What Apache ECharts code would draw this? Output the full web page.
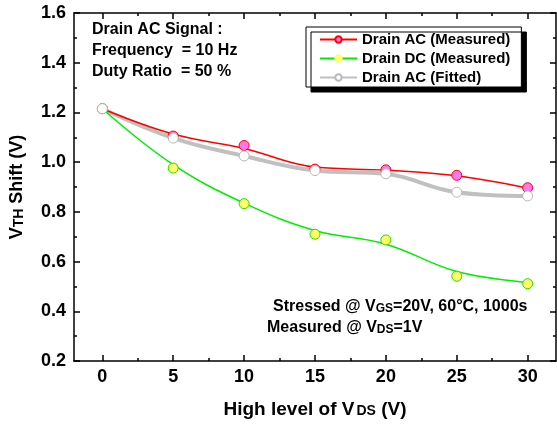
<!DOCTYPE html>
<html>
<head>
<meta charset="utf-8">
<script src="https://cdn.jsdelivr.net/npm/echarts@6/dist/echarts.min.js"></script>
<style>
  html, body { margin: 0; padding: 0; background: #fff; }
  #chart { width: 557px; height: 430px; }
</style>
</head>
<body>
<div id="chart"></div>
<script>
  var vdsHigh = [0, 5, 10, 15, 20, 25, 30];
  // measured points
  var acMeasured = [1.215, 1.105, 1.067, 0.972, 0.969, 0.947, 0.897];
  var dcMeasured = [1.215, 0.976, 0.833, 0.710, 0.687, 0.541, 0.511];
  var acFitted = [1.215, 1.097, 1.025, 0.966, 0.953, 0.879, 0.864];
  // curves as drawn through the points
  var acCurve = [1.215, 1.113, 1.055, 0.980, 0.968, 0.945, 0.895];
  var dcCurve = [1.215, 0.990, 0.835, 0.725, 0.670, 0.560, 0.516];
  var xTicks = [0, 5, 10, 15, 20, 25, 30];
  var xMinorTicks = [2.5, 7.5, 12.5, 17.5, 22.5, 27.5];

  var font = 'Liberation Sans, Arial, Helvetica, sans-serif';

  function pairs(ys) {
    return vdsHigh.map(function (x, i) { return [x, ys[i]]; });
  }

  function xFrame(pos, ticks, len, showLine, showLabel) {
    return {
      type: 'value', position: pos, min: -2, max: 32,
      axisLine: { show: showLine, onZero: false, lineStyle: { color: '#000', width: 1.5 } },
      axisTick: { show: true, inside: true, length: len, customValues: ticks, lineStyle: { color: '#000', width: 1.5 } },
      axisLabel: { show: showLabel, customValues: ticks, color: '#000', fontFamily: font, fontWeight: 'bold', fontSize: 18, margin: 7 },
      splitLine: { show: false }
    };
  }

  function yFrame(pos, showLabel) {
    return {
      type: 'value', position: pos, min: 0.2, max: 1.6, interval: 0.2,
      axisLine: { show: true, onZero: false, lineStyle: { color: '#000', width: 1.5 } },
      axisTick: { show: true, inside: true, length: 6, lineStyle: { color: '#000', width: 1.5 } },
      minorTick: { show: true, splitNumber: 2, length: 3, lineStyle: { color: '#000', width: 1.5 } },
      axisLabel: {
        show: showLabel, color: '#000', fontFamily: font, fontWeight: 'bold', fontSize: 18, margin: 8,
        formatter: function (v) { return v.toFixed(1); }
      },
      splitLine: { show: false }
    };
  }

  var xMain = xFrame('bottom', xTicks, 6, true, true);
  xMain.name = '{a|High level of V}{b|DS}{a| (V)}';
  xMain.nameLocation = 'middle';
  xMain.nameGap = 39;
  xMain.nameTextStyle = {
    rich: {
      a: { fontFamily: font, fontWeight: 'bold', fontSize: 19, color: '#000' },
      b: { fontFamily: font, fontWeight: 'bold', fontSize: 14, color: '#000', padding: [4, 0, 0, 2] }
    }
  };

  var yMain = yFrame('left', true);
  yMain.name = '{a|V}{b|TH}{a| Shift (V)}';
  yMain.nameLocation = 'middle';
  yMain.nameGap = 48;
  yMain.nameRotate = 90;
  yMain.nameTextStyle = {
    rich: {
      a: { fontFamily: font, fontWeight: 'bold', fontSize: 18, color: '#000' },
      b: { fontFamily: font, fontWeight: 'bold', fontSize: 14, color: '#000', padding: [4, 0, 0, 0] }
    }
  };

  var textRich = {
    a: { fontFamily: font, fontWeight: 'bold', fontSize: 16, fill: '#000' },
    s: { fontFamily: font, fontWeight: 'bold', fontSize: 12, fill: '#000', padding: [3, 0, 0, 0] }
  };

  var chart = echarts.init(document.getElementById('chart'));
  chart.setOption({
    animation: false,
    backgroundColor: '#fff',
    grid: { left: 74, right: 1, top: 13, bottom: 69 },
    legend: {
      orient: 'vertical',
      left: 306, top: 27,
      padding: [5, 11, 2, 13],
      itemGap: 4,
      itemWidth: 37, itemHeight: 8,
      backgroundColor: '#fff',
      borderColor: '#000', borderWidth: 1,
      shadowColor: '#000', shadowBlur: 0, shadowOffsetX: 5, shadowOffsetY: 5,
      textStyle: { fontFamily: font, fontWeight: 'bold', fontSize: 15, lineHeight: 15, color: '#000' },
      data: ['Drain AC (Measured)', 'Drain DC (Measured)', 'Drain AC (Fitted)']
    },
    xAxis: [
      xMain,
      xFrame('bottom', xMinorTicks, 3, false, false),
      xFrame('top', xTicks, 6, true, false),
      xFrame('top', xMinorTicks, 3, false, false)
    ],
    yAxis: [yMain, yFrame('right', false)],
    graphic: [
      { type: 'text', left: 92, top: 22, style: { text: 'Drain AC Signal :', font: 'bold 16px ' + font, fill: '#000' } },
      { type: 'text', left: 92, top: 43, style: { text: 'Frequency  = 10 Hz', font: 'bold 16px ' + font, fill: '#000' } },
      { type: 'text', left: 92, top: 64, style: { text: 'Duty Ratio  = 50 %', font: 'bold 16px ' + font, fill: '#000' } },
      { type: 'text', left: 273, top: 299, style: { text: '{a|Stressed @ V}{s|GS}{a|=20V, 60°C, 1000s}', rich: textRich } },
      { type: 'text', left: 267, top: 320, style: { text: '{a|Measured @ V}{s|DS}{a|=1V}', rich: textRich } }
    ],
    series: [
      {
        name: 'Drain AC (Measured)', type: 'line', smooth: 0.4, data: pairs(acCurve),
        symbol: 'circle', symbolSize: 9, showSymbol: false,
        lineStyle: { color: '#ff0000', width: 1.5 },
        itemStyle: { color: '#ff77ee', borderColor: '#ff0000', borderWidth: 1 }, z: 2
      },
      {
        name: 'Drain DC (Measured)', type: 'line', smooth: 0.4, data: pairs(dcCurve),
        symbol: 'circle', symbolSize: 9, showSymbol: false,
        lineStyle: { color: '#00ee00', width: 1.5 },
        itemStyle: { color: '#ffff66', borderColor: '#ffff66', borderWidth: 1 }, z: 2
      },
      {
        name: 'Drain AC (Fitted)', type: 'line', smooth: 0.4, data: pairs(acFitted),
        symbol: 'circle', symbolSize: 9, showSymbol: false,
        lineStyle: { color: '#c0c0c0', width: 4 },
        itemStyle: { color: '#fff', borderColor: '#b8b8b8', borderWidth: 1 }, z: 1
      },
      {
        name: 'Drain AC (Measured)', type: 'scatter', data: pairs(acMeasured), symbolSize: 10,
        itemStyle: { color: '#ff77ee', borderColor: '#ff0000', borderWidth: 1, opacity: 1 }, z: 3
      },
      {
        name: 'Drain DC (Measured)', type: 'scatter', data: pairs(dcMeasured), symbolSize: 10,
        itemStyle: { color: '#ffff66', borderColor: '#22dd00', borderWidth: 1, opacity: 1 }, z: 3
      },
      {
        name: 'Drain AC (Fitted)', type: 'scatter', data: pairs(acFitted), symbolSize: 10,
        itemStyle: { color: '#fff', borderColor: '#b8b8b8', borderWidth: 1, opacity: 1 }, z: 4
      }
    ]
  });
</script>
</body>
</html>
